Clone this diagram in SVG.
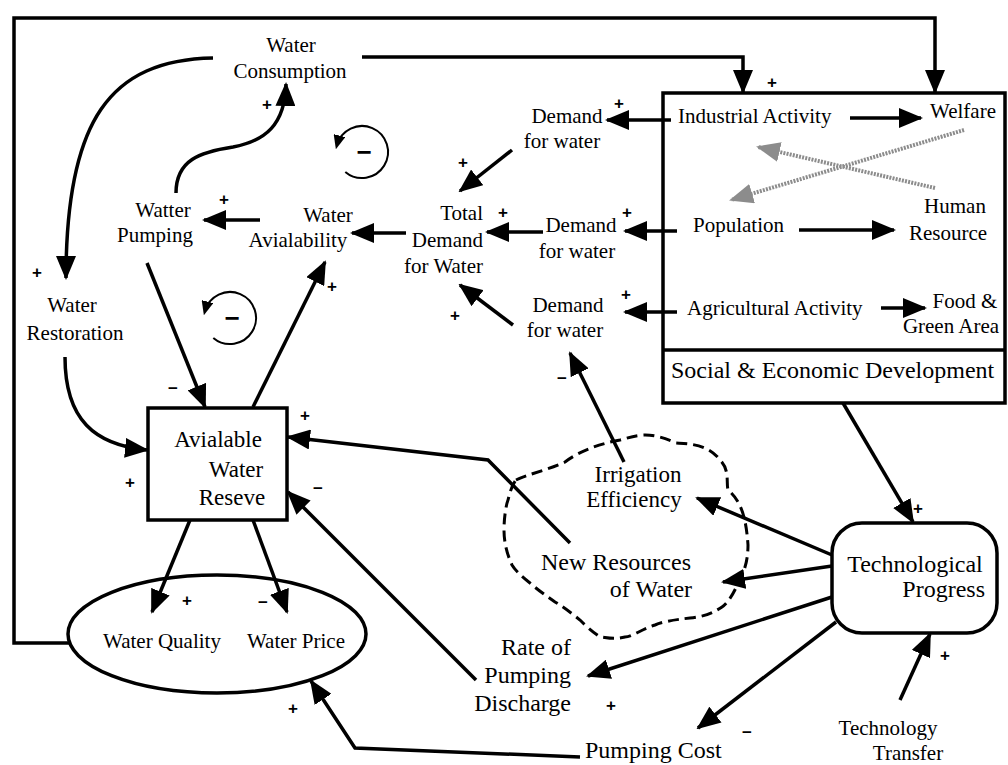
<svg xmlns="http://www.w3.org/2000/svg" width="1008" height="765" viewBox="0 0 1008 765">
<defs>
<style>
text{font-family:"Times New Roman",Times,"Liberation Serif","DejaVu Serif",serif}
.t{font-size:21px;fill:#000}
.b{font-size:24px}
.m{text-anchor:middle}
.e{text-anchor:end}
.s{font-family:"Liberation Sans",Arial,sans-serif;font-size:17px;font-weight:bold;text-anchor:middle;dominant-baseline:central;fill:#000}
.c{fill:none;stroke:#000;stroke-width:3.5;marker-end:url(#ah)}
.g{fill:none;stroke:#8c8c8c;stroke-width:4;stroke-dasharray:2 1.2;marker-end:url(#gh)}
.loop{fill:none;stroke:#000;stroke-width:2;marker-end:url(#lh)}
.box{fill:none;stroke:#000;stroke-width:3.5}
</style>
<marker id="ah" markerWidth="24" markerHeight="20" refX="22" refY="10" orient="auto" markerUnits="userSpaceOnUse"><path d="M0,0 L24,10 L0,20 z" fill="#000"/></marker>
<marker id="gh" markerWidth="24" markerHeight="20" refX="22" refY="10" orient="auto" markerUnits="userSpaceOnUse"><path d="M0,0 L24,10 L0,20 z" fill="#8c8c8c"/></marker>
<marker id="lh" markerWidth="14" markerHeight="12" refX="10" refY="6" orient="auto" markerUnits="userSpaceOnUse"><path d="M0,0 L14,6 L0,12 z" fill="#000"/></marker>
</defs>
<rect width="1008" height="765" fill="#fff"/>

<g id="water-consumption">
<text class="t m" x="291" y="52" font-family="Liberation Serif">Water</text>
<text class="t m" x="290" y="78" font-family="Liberation Serif">Consumption</text>
</g>
<g id="watter-pumping">
<text class="t m" x="163" y="217">Watter</text>
<text class="t m" x="155" y="242">Pumping</text>
</g>
<g id="water-availability">
<text class="t m" x="328" y="222">Water</text>
<text class="t m" x="298" y="247">Avialability</text>
</g>
<g id="total-demand">
<text class="t e" x="483" y="220">Total</text>
<text class="t e" x="483" y="247">Demand</text>
<text class="t e" x="483" y="273">for Water</text>
</g>
<g id="demand-1">
<text class="t m" x="567" y="123">Demand</text>
<text class="t m" x="562" y="148">for water</text>
</g>
<g id="demand-2">
<text class="t m" x="581" y="232">Demand</text>
<text class="t m" x="577" y="258">for water</text>
</g>
<g id="demand-3">
<text class="t m" x="568" y="312">Demand</text>
<text class="t m" x="565" y="337">for water</text>
</g>
<g id="social-economic-development">
<rect class="box" x="663" y="93" width="342" height="310"/>
<line x1="663" y1="350" x2="1005" y2="350" stroke="#000" stroke-width="3.5"/>
<text class="t" x="678" y="123">Industrial Activity</text>
<text class="t m" x="963" y="118">Welfare</text>
<text class="t" x="693" y="232">Population</text>
<text class="t m" x="955" y="213">Human</text>
<text class="t m" x="948" y="240">Resource</text>
<text class="t" x="687" y="315">Agricultural Activity</text>
<text class="t m" x="965" y="308">Food &amp;</text>
<text class="t m" x="951" y="333">Green Area</text>
<text class="t b" x="671" y="378">Social &amp; Economic Development</text>
</g>
<g id="water-restoration">
<text class="t m" x="72" y="312">Water</text>
<text class="t m" x="75" y="340">Restoration</text>
</g>
<g id="available-water-reserve">
<rect class="box" x="148" y="408" width="139" height="112"/>
<text class="t m" x="218" y="447" style="font-size:23px">Avialable</text>
<text class="t m" x="236" y="477" style="font-size:23px">Water</text>
<text class="t m" x="232" y="505" style="font-size:23px">Reseve</text>
</g>
<g id="water-quality-price">
<ellipse cx="217" cy="634" rx="149" ry="59" fill="none" stroke="#000" stroke-width="3.5"/>
<text class="t m" x="162" y="648">Water Quality</text>
<text class="t m" x="296" y="648">Water Price</text>
</g>
<g id="cloud">
<path d="M516,480 C528,474 548,470 565,462 C578,452 598,444 620,440 C635,436 648,430 676,443 C690,444 708,444 720,460 C730,470 726,482 728,490 C740,500 746,515 748,545 C748,565 742,575 740,578 C735,592 728,603 722,607 C710,615 700,617 690,618 C672,620 662,622 655,625 C640,630 632,637 625,637 C612,640 605,637 600,637 C590,630 585,625 580,620 C570,612 562,606 555,602 C545,595 538,590 530,583 C520,575 515,570 512,565 C506,552 504,540 504,530 C504,518 506,505 508,500 C510,492 512,485 516,480 Z" fill="none" stroke="#000" stroke-width="3" stroke-dasharray="11 6"/>
</g>
<g id="irrigation-efficiency">
<text class="t m" x="638" y="482" style="font-size:23px">Irrigation</text>
<text class="t m" x="634" y="507" style="font-size:23px">Efficiency</text>
</g>
<g id="new-resources">
<text class="t m b" x="616" y="570">New Resources</text>
<text class="t m b" x="651" y="597">of Water</text>
</g>
<g id="rate-of-pumping-discharge">
<text class="t e b" x="571" y="655">Rate of</text>
<text class="t e b" x="571" y="683">Pumping</text>
<text class="t e b" x="571" y="711">Discharge</text>
</g>
<g id="pumping-cost">
<text class="t b" x="585" y="758">Pumping Cost</text>
</g>
<g id="technological-progress">
<rect class="box" x="832" y="523" width="165" height="110" rx="30"/>
<text class="t m b" x="915" y="572">Technological</text>
<text class="t e b" x="985" y="597">Progress</text>
</g>
<g id="technology-transfer">
<text class="t m" x="888" y="735">Technology</text>
<text class="t m" x="908" y="760">Transfer</text>
</g>

<g id="connectors">
<polyline class="c" points="70,643 14,643 14,18 935,18 935,92"/>
<polyline class="c" points="362,57 743,57 743,92"/>
<path class="c" d="M213,58 C110,60 66,120 66,278"/>
<path class="c" d="M176,193 C176,160 200,152 233,147 C265,141 285,125 286,84"/>
<line class="c" x1="260" y1="220" x2="204" y2="220"/>
<line class="c" x1="406" y1="233" x2="352" y2="233"/>
<line class="c" x1="512" y1="150" x2="460" y2="191"/>
<line class="c" x1="543" y1="232" x2="487" y2="232"/>
<line class="c" x1="513" y1="325" x2="460" y2="285"/>
<line class="c" x1="671" y1="120" x2="607" y2="120"/>
<line class="c" x1="677" y1="231" x2="625" y2="231"/>
<line class="c" x1="677" y1="312" x2="625" y2="312"/>
<line class="c" x1="850" y1="118" x2="921" y2="118"/>
<line class="c" x1="799" y1="230" x2="894" y2="230"/>
<line class="c" x1="881" y1="308" x2="925" y2="308"/>
<line class="g" x1="964" y1="130" x2="731" y2="200"/>
<line class="g" x1="935" y1="188" x2="758" y2="147"/>
<line class="c" x1="147" y1="263" x2="205" y2="407"/>
<line class="c" x1="253" y1="407" x2="325" y2="262"/>
<path class="c" d="M65,357 C65,420 95,445 147,450"/>
<polyline class="c" points="570,543 488,460 288,437"/>
<line class="c" x1="476" y1="680" x2="288" y2="492"/>
<line class="c" x1="190" y1="520" x2="152" y2="612"/>
<line class="c" x1="253" y1="520" x2="287" y2="612"/>
<polyline class="c" points="580,757 355,748 311,681"/>
<line class="c" x1="624" y1="462" x2="570" y2="353"/>
<line class="c" x1="843" y1="403" x2="913" y2="522"/>
<line class="c" x1="832" y1="555" x2="697" y2="498"/>
<line class="c" x1="832" y1="566" x2="723" y2="582"/>
<line class="c" x1="832" y1="597" x2="588" y2="676"/>
<line class="c" x1="836" y1="622" x2="698" y2="728"/>
<line class="c" x1="900" y1="700" x2="930" y2="634"/>
<path class="loop" d="M345.3,171.9 A26,26 0 1 0 336.9,145.3"/>
<path class="loop" d="M213.3,337.9 A26,26 0 1 0 204.9,311.3"/>
</g>

<g id="loop-signs">
<text class="s" x="364" y="152" style="font-size:26px">−</text>
<text class="s" x="232" y="318" style="font-size:26px">−</text>
</g>

<g id="polarities">
<text class="s" x="267" y="104">+</text>
<text class="s" x="224" y="199">+</text>
<text class="s" x="37" y="272">+</text>
<text class="s" x="772" y="82">+</text>
<text class="s" x="619" y="103">+</text>
<text class="s" x="463" y="162">+</text>
<text class="s" x="503" y="212">+</text>
<text class="s" x="627" y="212">+</text>
<text class="s" x="626" y="294">+</text>
<text class="s" x="455" y="315">+</text>
<text class="s" x="332" y="286">+</text>
<text class="s" x="173" y="388">−</text>
<text class="s" x="130" y="482">+</text>
<text class="s" x="305" y="415">+</text>
<text class="s" x="318" y="488">−</text>
<text class="s" x="187" y="600">+</text>
<text class="s" x="263" y="602">−</text>
<text class="s" x="293" y="708">+</text>
<text class="s" x="611" y="705">+</text>
<text class="s" x="562" y="378">−</text>
<text class="s" x="918" y="508">+</text>
<text class="s" x="747" y="732">−</text>
<text class="s" x="945" y="655">+</text>
</g>
</svg>
